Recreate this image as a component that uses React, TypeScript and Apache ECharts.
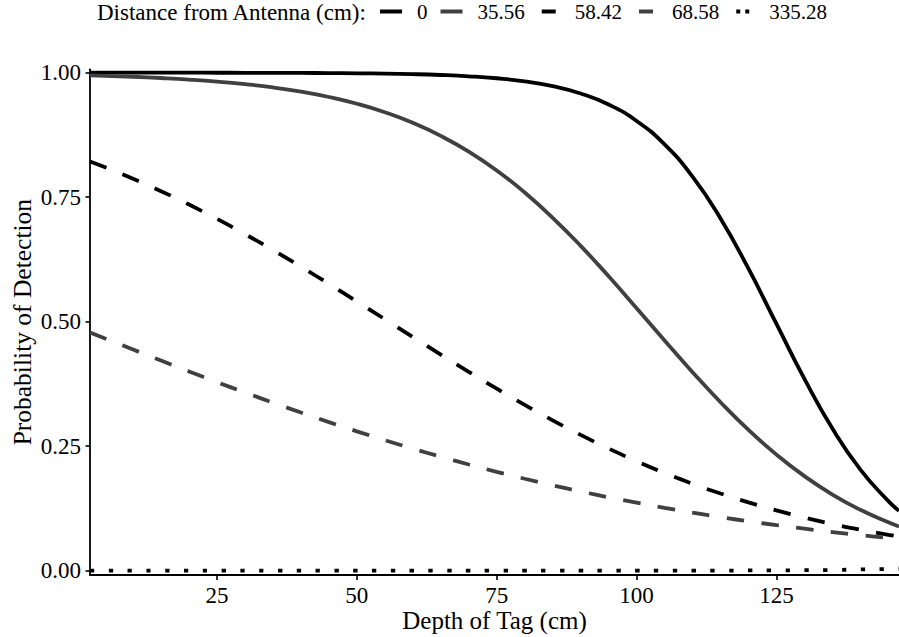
import React, { useEffect, useRef } from "react";
import * as echarts from "echarts";

// Depth of tag (cm) at which the curves were read
const depth = [2.3, 5, 10, 15, 20, 25, 30, 35, 40, 45, 50, 55, 60, 65, 70, 75, 80, 85, 90, 95, 100, 105, 110, 115, 120, 125, 130, 135, 140, 145, 146.9];

// Distance from antenna (cm) — legend labels
const distanceLabels = ["0", "35.56", "58.42", "68.58", "335.28"];

// Probability of detection for each distance
const prob0 = [1.0, 1.0, 1.0, 1.0, 1.0, 0.9999, 0.9998, 0.9997, 0.9995, 0.9992, 0.9988, 0.9981, 0.9971, 0.9954, 0.9928, 0.9888, 0.9826, 0.9729, 0.9582, 0.936, 0.9031, 0.8559, 0.7912, 0.7073, 0.6064, 0.4955, 0.3851, 0.2854, 0.203, 0.1397, 0.1203];
const prob3556 = [0.9945, 0.9936, 0.9918, 0.9893, 0.9862, 0.9822, 0.977, 0.9704, 0.9619, 0.9512, 0.9376, 0.9205, 0.8993, 0.8731, 0.8414, 0.8036, 0.7594, 0.7087, 0.6523, 0.5912, 0.5272, 0.4623, 0.3987, 0.3383, 0.2827, 0.2331, 0.1899, 0.153, 0.1223, 0.0971, 0.0887];
const prob5842 = [0.8216, 0.81, 0.787, 0.7621, 0.7352, 0.7064, 0.6759, 0.6438, 0.6104, 0.5759, 0.5407, 0.505, 0.4693, 0.4339, 0.3992, 0.3654, 0.333, 0.302, 0.2727, 0.2453, 0.2198, 0.1962, 0.1746, 0.155, 0.1372, 0.1211, 0.1067, 0.0938, 0.0823, 0.0722, 0.0687];
const prob6858 = [0.4784, 0.4663, 0.444, 0.4219, 0.4001, 0.3787, 0.3578, 0.3374, 0.3176, 0.2984, 0.2799, 0.2621, 0.2451, 0.2288, 0.2133, 0.1986, 0.1847, 0.1715, 0.1591, 0.1474, 0.1365, 0.1262, 0.1166, 0.1076, 0.0993, 0.0915, 0.0843, 0.0776, 0.0714, 0.0657, 0.0636];
const prob33528 = [0, 0, 0, 0, 0, 0, 0, 0, 0, 0, 0, 0, 0, 0, 0, 0, 0, 0, 0, 0, 0, 0, 0, 0, 0.0005, 0.0008, 0.001, 0.0015, 0.0025, 0.0035, 0.004];

// Axis ticks
const xTicks = [25, 50, 75, 100, 125];
const yTicks = [0, 0.25, 0.5, 0.75, 1];

const FONT = "'Liberation Serif', 'Times New Roman', serif";
const BLACK = "#000000";
const GREY = "#404040";

const seriesValues = [prob0, prob3556, prob5842, prob6858, prob33528];
const seriesColors = [BLACK, GREY, BLACK, GREY, BLACK];
const seriesDash: any[] = ["solid", "solid", [17.5, 17.5], [17.5, 17.5], [4.3, 14.5]];
const legendDash: any[] = ["solid", "solid", [14, 100], [14, 100], [4, 5, 4, 100]];
const legendDashOffset = [0, 0, 110, 110, 108.5];

export default function App() {
  const ref = useRef<HTMLDivElement>(null);

  useEffect(() => {
    if (!ref.current) return;
    const chart = echarts.init(ref.current, undefined, { renderer: "svg" });

    const series = distanceLabels.map((name, i) => ({
      name,
      type: "line",
      data: depth.map((d, j) => [d, seriesValues[i][j]]),
      smooth: true,
      symbol: "none",
      showSymbol: false,
      lineStyle: {
        color: seriesColors[i],
        width: 3.8,
        type: seriesDash[i],
        cap: "butt",
      },
      itemStyle: { color: seriesColors[i] },
      z: 2 + i,
    }));

    const option: any = {
      animation: false,
      backgroundColor: "#ffffff",
      textStyle: { fontFamily: FONT },
      title: {
        text: "Distance from Antenna (cm):",
        left: 97,
        top: 1,
        padding: 0,
        textStyle: { fontFamily: FONT, fontSize: 23, fontWeight: "normal", color: BLACK },
      },
      legend: {
        left: 378,
        top: 1,
        padding: 0,
        itemWidth: 22,
        itemHeight: 14,
        itemGap: 11,
        textStyle: { fontFamily: FONT, fontSize: 21, color: BLACK, padding: [0, 0, 0, 10] },
        data: distanceLabels.map((name, i) => ({
          name,
          itemStyle: { opacity: 0 },
          lineStyle: {
            color: seriesColors[i],
            width: 4,
            type: legendDash[i],
            dashOffset: legendDashOffset[i],
            cap: "butt",
            opacity: 1,
          },
        })),
      },
      grid: { left: 90, right: 0, top: 69.3, bottom: 62, containLabel: false, outerBoundsMode: "none" },
      xAxis: {
        type: "value",
        min: 2.3,
        max: 146.9,
        minInterval: 25,
        maxInterval: 25,
        name: "Depth of Tag (cm)",
        nameLocation: "middle",
        nameGap: 33,
        nameMoveOverlap: false,
        nameTextStyle: { fontFamily: FONT, fontSize: 25, color: BLACK },
        axisLine: { show: true, onZero: false, lineStyle: { color: BLACK, width: 1.8 } },
        axisTick: { show: true, length: 5, customValues: xTicks, lineStyle: { color: BLACK, width: 1.6 } },
        axisLabel: {
          customValues: xTicks,
          margin: 9,
          fontFamily: FONT,
          fontSize: 23,
          color: BLACK,
        },
        splitLine: { show: false },
      },
      yAxis: {
        type: "value",
        min: -0.0086,
        max: 1.0068,
        minInterval: 0.25,
        maxInterval: 0.25,
        name: "Probability of Detection",
        nameLocation: "middle",
        nameRotate: 90,
        nameGap: 55,
        nameMoveOverlap: false,
        nameTextStyle: { fontFamily: FONT, fontSize: 25.5, color: BLACK },
        axisLine: { show: true, onZero: false, lineStyle: { color: BLACK, width: 1.8 } },
        axisTick: { show: true, length: 4.5, customValues: yTicks, lineStyle: { color: BLACK, width: 1.6 } },
        axisLabel: {
          customValues: yTicks,
          margin: 9,
          fontFamily: FONT,
          fontSize: 23,
          color: BLACK,
          formatter: (v: number) => v.toFixed(2),
        },
        splitLine: { show: false },
      },
      series,
    };

    chart.setOption(option);
    return () => chart.dispose();
  }, []);

  return (
    <div
      ref={ref}
      style={{ position: "fixed", left: 0, top: 0, width: 899, height: 637, background: "#fff" }}
    />
  );
}
